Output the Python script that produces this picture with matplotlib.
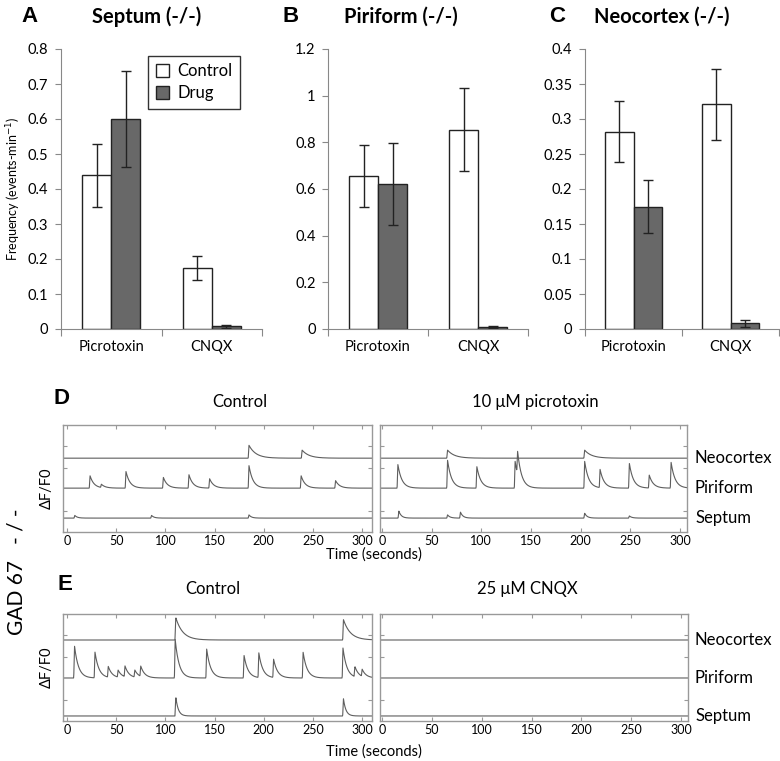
import numpy as np
import matplotlib
matplotlib.use('Agg')
import matplotlib.pyplot as plt
from matplotlib.ticker import FuncFormatter
from matplotlib.patches import Patch

plt.rcParams['font.family'] = ['Lato', 'DejaVu Sans']

W, H = 780, 761

# ---------------- bar chart data (events per minute) ----------------
conditions = ['Picrotoxin', 'CNQX']

septum_ctrl = [0.44, 0.175]
septum_ctrl_err = [0.09, 0.034]
septum_drug = [0.60, 0.008]
septum_drug_err = [0.137, 0.004]

piriform_ctrl = [0.655, 0.855]
piriform_ctrl_err = [0.133, 0.176]
piriform_drug = [0.62, 0.01]
piriform_drug_err = [0.176, 0.005]

neocortex_ctrl = [0.282, 0.321]
neocortex_ctrl_err = [0.044, 0.051]
neocortex_drug = [0.175, 0.008]
neocortex_drug_err = [0.038, 0.005]

# ---------------- calcium trace events (time s, amplitude) ----------------
region_names = ['Neocortex', 'Piriform', 'Septum']
d_baselines = [0.69, 0.41, 0.13]
e_baselines = [0.757, 0.402, 0.047]

# D, control
d_ctrl_neo_t = [185, 239]
d_ctrl_neo_a = [0.12, 0.075]
d_ctrl_pir_t = [23.5, 35, 60, 98, 124, 145, 185, 238, 273]
d_ctrl_pir_a = [0.115, 0.03, 0.155, 0.10, 0.125, 0.087, 0.21, 0.115, 0.07]
d_ctrl_sep_t = [8, 86, 185]
d_ctrl_sep_a = [0.025, 0.025, 0.03]

# D, 10 uM picrotoxin
d_ptx_neo_t = [66, 204]
d_ptx_neo_a = [0.075, 0.075]
d_ptx_pir_t = [16, 66, 95.5, 134, 136.5, 204, 219.5, 249, 269, 291]
d_ptx_pir_a = [0.22, 0.26, 0.20, 0.25, 0.21, 0.25, 0.17, 0.23, 0.12, 0.24]
d_ptx_sep_t = [17, 66, 79, 204, 249]
d_ptx_sep_a = [0.065, 0.03, 0.055, 0.045, 0.02]

# E, control
e_ctrl_neo_t = [110.6, 281]
e_ctrl_neo_a = [0.21, 0.19]
e_ctrl_pir_t = [7.7, 28.5, 42, 52, 59, 69, 75, 110, 142, 180, 195, 210, 240, 280.5, 292.6, 300]
e_ctrl_pir_a = [0.30, 0.24, 0.10, 0.065, 0.10, 0.065, 0.095, 0.36, 0.27, 0.21, 0.23, 0.17, 0.24, 0.28, 0.095, 0.065]
e_ctrl_sep_t = [110.6, 281]
e_ctrl_sep_a = [0.18, 0.16]

# E, 25 uM CNQX: no events
e_cnqx_t = []
e_cnqx_a = []

fig = plt.figure(figsize=(W / 100, H / 100), dpi=100)


def px_axes(x0, y0, x1, y1):
    return fig.add_axes([x0 / W, 1 - y1 / H, (x1 - x0) / W, (y1 - y0) / H])


def ptext(x, y, s, **kw):
    fig.text(x / W, 1 - y / H, s, **kw)


# ---------------- A-C bar panels ----------------
bar_w = 0.29


def bar_panel(ax, ctrl, ctrl_err, drug, drug_err, ymax, ystep):
    x = np.arange(len(conditions)) + 0.5
    ekw = dict(ecolor='#222222', elinewidth=1, capsize=3.5, capthick=1)
    ax.bar(x - bar_w / 2, ctrl, bar_w, yerr=ctrl_err, color='white',
           edgecolor='#222222', linewidth=1, error_kw=ekw)
    ax.bar(x + bar_w / 2, drug, bar_w, yerr=drug_err, color='#686868',
           edgecolor='#222222', linewidth=1, error_kw=ekw)
    ax.set_xlim(0, 2)
    ax.set_ylim(0, ymax)
    ax.set_yticks(np.arange(0, ymax + ystep / 2, ystep))
    ax.yaxis.set_major_formatter(FuncFormatter(lambda v, p: f'{v:g}'))
    ax.set_xticks([0, 1, 2])
    ax.set_xticklabels([])
    ax.set_xticks(x, minor=True)
    ax.set_xticklabels(conditions, minor=True)
    ax.tick_params(axis='x', which='minor', length=0, pad=8, labelsize=10.5)
    ax.tick_params(axis='x', which='major', length=5, color='#888888')
    ax.tick_params(axis='y', length=4, color='#888888', labelsize=10.5, pad=5)
    for s in ['top', 'right']:
        ax.spines[s].set_visible(False)
    for s in ['left', 'bottom']:
        ax.spines[s].set_color('#888888')


axA = px_axes(61, 49, 262, 329)
bar_panel(axA, septum_ctrl, septum_ctrl_err, septum_drug, septum_drug_err, 0.8, 0.1)
axA.set_ylabel('Frequency (events-min$^{-1}$)', fontsize=9)
axA.yaxis.set_label_coords(-0.19, 0.5)

axB = px_axes(328, 49, 528, 329)
bar_panel(axB, piriform_ctrl, piriform_ctrl_err, piriform_drug, piriform_drug_err, 1.2, 0.2)

axC = px_axes(585, 49, 779, 329)
bar_panel(axC, neocortex_ctrl, neocortex_ctrl_err, neocortex_drug, neocortex_drug_err, 0.4, 0.05)

handles = [Patch(facecolor='white', edgecolor='#222222', linewidth=1),
           Patch(facecolor='#686868', edgecolor='#222222', linewidth=1)]
leg = fig.legend(handles, ['Control', 'Drug'], loc='upper left',
                 bbox_to_anchor=(148 / W, 1 - 56 / H), bbox_transform=fig.transFigure,
                 fontsize=12, frameon=True, fancybox=False, borderaxespad=0,
                 handlelength=0.8, handleheight=0.8, handletextpad=0.5,
                 borderpad=0.45, labelspacing=0.35)
leg.get_frame().set_edgecolor('black')
leg.get_frame().set_linewidth(1)

for letter, lx, title, tx in [('A', 30, 'Septum (-/-)', 147),
                              ('B', 291, 'Piriform (-/-)', 401),
                              ('C', 557, 'Neocortex (-/-)', 662)]:
    ptext(lx, 16, letter, family='Liberation Sans', fontweight='bold',
          fontsize=16, ha='center', va='center')
    ptext(tx, 17, title, fontweight='bold', fontsize=14.5, ha='center', va='center')

# ---------------- D-E trace panels ----------------
t = np.linspace(-6, 312, 1273)
taus = [7.0, 4.0, 2.5]


def trace(base, times, amps, tau):
    y = np.full_like(t, base)
    for t0, a in zip(times, amps):
        dt = t - t0
        rise = np.clip((dt + 0.8) / 0.8, 0, 1)
        y += a * np.where(dt < 0, rise, np.exp(-np.clip(dt, 0, None) / tau))
    return y


def trace_panel(ax, baselines, events, xlim):
    for base, (times, amps), tau in zip(baselines, events, taus):
        ax.plot(t, trace(base, times, amps, tau), color='#5e5e5e', lw=0.8)
    ax.set_xlim(xlim)
    ax.set_ylim(0, 1)
    ax.set_xticks(range(0, 301, 50))
    ax.set_yticks([0.2, 0.6, 0.8])
    ax.set_yticklabels([])
    ax.tick_params(direction='in', top=True, right=True, length=3,
                   color='#999999', labelsize=9, pad=2)
    for s in ax.spines.values():
        s.set_color('#999999')
        s.set_linewidth(1)


axD1 = px_axes(63, 425, 372, 532)
trace_panel(axD1, d_baselines, [(d_ctrl_neo_t, d_ctrl_neo_a), (d_ctrl_pir_t, d_ctrl_pir_a),
                                (d_ctrl_sep_t, d_ctrl_sep_a)], (-4, 310))
axD2 = px_axes(380, 425, 687, 532)
trace_panel(axD2, d_baselines, [(d_ptx_neo_t, d_ptx_neo_a), (d_ptx_pir_t, d_ptx_pir_a),
                                (d_ptx_sep_t, d_ptx_sep_a)], (-2, 307))
axE1 = px_axes(63, 614, 372, 721)
trace_panel(axE1, e_baselines, [(e_ctrl_neo_t, e_ctrl_neo_a), (e_ctrl_pir_t, e_ctrl_pir_a),
                                (e_ctrl_sep_t, e_ctrl_sep_a)], (-4, 310))
axE2 = px_axes(380, 614, 688, 721)
trace_panel(axE2, e_baselines, [(e_cnqx_t, e_cnqx_a)] * 3, (-2, 307))

# panel titles / labels
ptext(62, 398, 'D', family='Liberation Sans', fontweight='bold', fontsize=16,
      ha='center', va='center')
ptext(65, 585, 'E', family='Liberation Sans', fontweight='bold', fontsize=16,
      ha='center', va='center')
ptext(240, 402, 'Control', fontsize=12, ha='center', va='center')
ptext(535, 402, '10 \u03bcM picrotoxin', fontsize=12, ha='center', va='center')
ptext(213, 589, 'Control', fontsize=12, ha='center', va='center')
ptext(527, 589, '25 \u03bcM CNQX', fontsize=12, ha='center', va='center')

ptext(374, 555, 'Time (seconds)', fontsize=10.5, ha='center', va='center')
ptext(374, 752, 'Time (seconds)', fontsize=10.5, ha='center', va='center')
ptext(47, 488, '\u0394F/F0', fontsize=10.5, rotation=90, ha='center', va='center')
ptext(47, 667, '\u0394F/F0', fontsize=10.5, rotation=90, ha='center', va='center')
ptext(17, 572, 'GAD 67   - / -', fontsize=15, rotation=90, ha='center', va='center')

for base, name in zip(d_baselines, region_names):
    ptext(695, 532 - base * 107, name, fontsize=12, ha='left', va='center')
for base, name in zip(e_baselines, region_names):
    ptext(695, 721 - base * 107, name, fontsize=12, ha='left', va='center')

fig.savefig('out.png', dpi=100)
